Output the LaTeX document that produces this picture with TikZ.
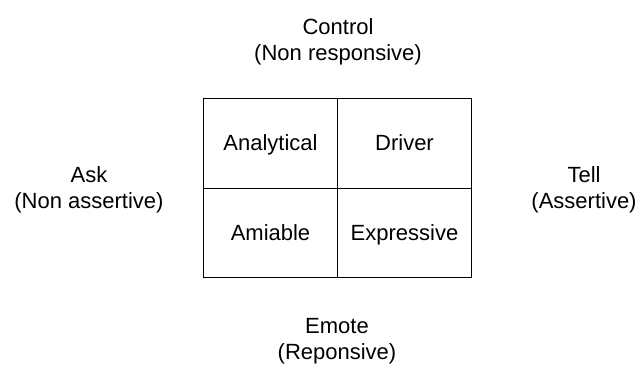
\documentclass[tikz,border=0pt]{standalone}
\usepackage{fontspec}
\setmainfont{Liberation Sans}
\begin{document}
\begin{tikzpicture}[x=1pt, y=-1pt,
    cell/.style={rectangle, draw=black, line width=1.2pt, minimum width=134pt, minimum height=89.5pt, inner sep=0pt, text height=16pt, text depth=1.5pt, font=\fontsize{22}{26}\selectfont},
    axis/.style={align=center, inner sep=0pt, font=\fontsize{22}{26}\selectfont},
]
\useasboundingbox (0,0) rectangle (640,367);

\node[cell] (analytical) at (270.5,143.5) {Analytical};
\node[cell] (driver) at (404.5,143.5) {Driver};
\node[cell] (amiable) at (270.5,233) {Amiable};
\node[cell] (expressive) at (404.5,233) {Expressive};

\node[axis] (control) at (338,41.5) {Control\\(Non responsive)};
\node[axis] (emote) at (337,341) {Emote\\(Reponsive)};
\node[axis] (ask) at (89,190) {Ask\\(Non assertive)};
\node[axis] (tell) at (584,190) {Tell\\(Assertive)};

\end{tikzpicture}
\end{document}
